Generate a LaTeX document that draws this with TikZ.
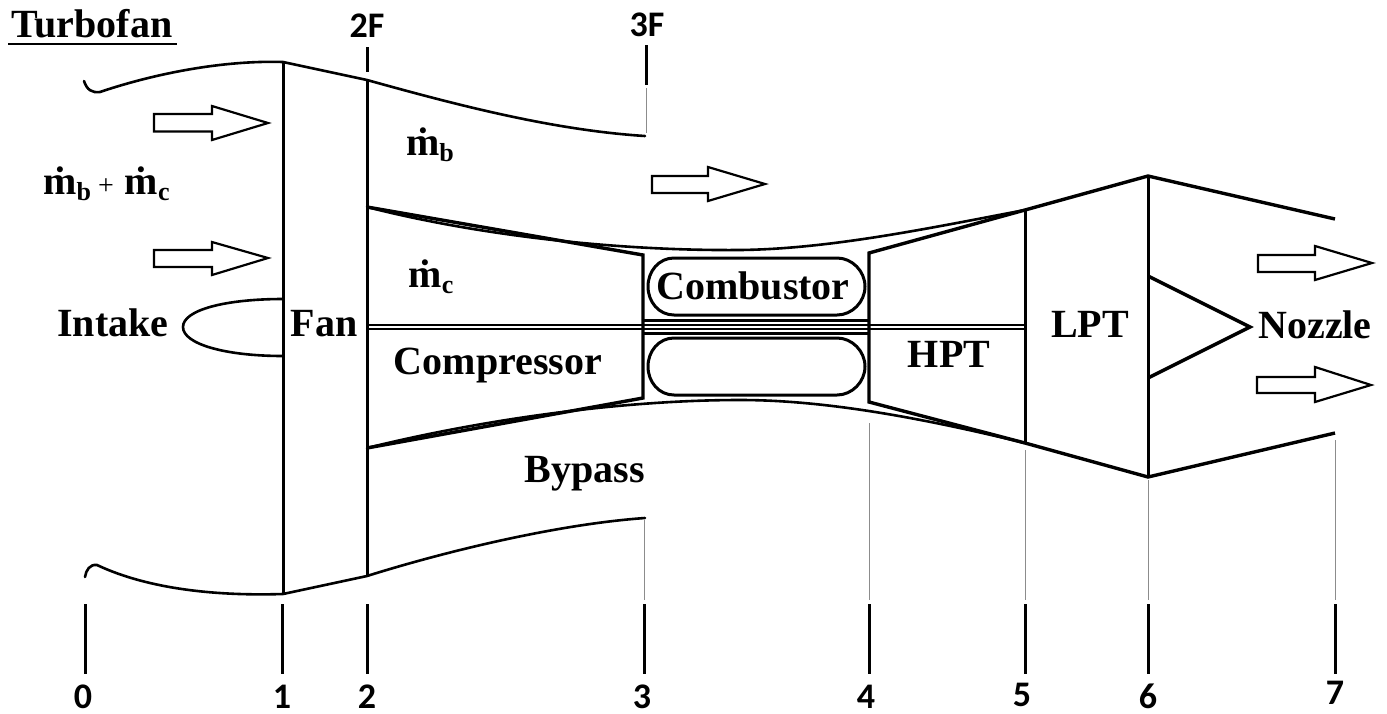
\documentclass[tikz,border=0pt]{standalone}
\usepackage{fontspec}
\setmainfont{Liberation Serif}
\newfontfamily\numfont{Carlito}
\newcommand{\mdotsub}[1]{ṁ\raisebox{-6pt}{\fontsize{26}{26}\selectfont #1}}
\tikzset{
  x=1pt,y=-1pt,
  body/.style={draw=black,line width=3pt,line join=miter},
  hull/.style={draw=black,line width=2.6pt,line cap=round},
  heavy/.style={draw=black,line width=3.4pt},
  flowarrow/.style={draw=black,fill=white,line width=2.2pt,line join=miter},
  guide/.style={draw=black!45,line width=1pt},
  tick/.style={draw=black,line width=3pt},
  lbl/.style={anchor=base,inner sep=0pt,font=\fontsize{40}{40}\selectfont\bfseries},
  mlbl/.style={anchor=base,inner sep=0pt,font=\fontsize{40}{40}\selectfont\bfseries},
  stn/.style={anchor=base,inner sep=0pt,font=\fontsize{36}{36}\selectfont\numfont\bfseries},
  burner/.style={draw=black,line width=3pt},
}
\begin{document}
\begin{tikzpicture}
\useasboundingbox (0,0) rectangle (1387,713);
\fill[white] (0,0) rectangle (1387,713);

% key points
\coordinate (fanT) at (283,62);   \coordinate (fanB) at (283,594);
\coordinate (twoT) at (367,80);   \coordinate (twoB) at (367,576);
\coordinate (coreT) at (367,207); \coordinate (coreB) at (367,448);
\coordinate (cmpT) at (643,255);  \coordinate (cmpB) at (643,398);
\coordinate (hptT) at (869,253);  \coordinate (hptB) at (869,402);
\coordinate (lptT) at (1025,210); \coordinate (lptB) at (1025,443);
\coordinate (sixT) at (1148,176); \coordinate (sixB) at (1148,477);
\coordinate (endT) at (1335,219); \coordinate (endB) at (1335,433);
\coordinate (bypT) at (645,136);  \coordinate (bypB) at (645,518);

% outer casing
\draw[hull] (84,81) .. controls (87,90) and (92,93) .. (100,92)
  .. controls (150,75) and (220,60) .. (fanT) -- (twoT)
  .. controls (450,103) and (550,130) .. (bypT);
\draw[hull] (85,577) .. controls (86,570) and (90,564) .. (97,565)
  .. controls (150,590) and (220,596) .. (fanB) -- (twoB)
  .. controls (450,550) and (560,524) .. (bypB);

% vertical planes
\draw[body] (fanT) -- (fanB);
\draw[body] (twoT) -- (twoB);

% spinner
\draw[hull] (283,299) .. controls (225,299) and (183,310) .. (183,327)
  .. controls (183,344) and (225,356) .. (283,356);

% core duct
\draw[hull] (coreT) .. controls (480,236) and (620,251) .. (740,250)
  .. controls (830,249) and (930,228) .. (lptT);
\draw[hull] (coreB) .. controls (480,420) and (620,400) .. (740,400)
  .. controls (830,400) and (930,420) .. (lptB);

% compressor and turbine
\draw[heavy,line join=miter] (coreT) -- (cmpT) -- (cmpB) -- (coreB);
\draw[heavy,line join=miter] (lptT) -- (hptT) -- (hptB) -- (lptB);
\draw[body] (lptT) -- (lptB);
\draw[heavy] (lptT) -- (sixT) -- (endT);
\draw[heavy] (lptB) -- (sixB) -- (endB);
\draw[body] (sixT) -- (sixB);

% nozzle cone
\draw[heavy,line join=miter] (1148,276) -- (1250,327) -- (1148,378);

% shaft
\draw[draw=black,line width=2pt] (367,325) -- (1025,325);
\draw[draw=black,line width=2pt] (367,329) -- (1025,329);
\draw[heavy] (643,320.5) -- (869,320.5);
\draw[heavy] (643,333.5) -- (869,333.5);

% combustors
\draw[burner] (674,258) -- (837,258) .. controls (852,258) and (865,271) .. (865,286.5)
  .. controls (865,302) and (852,315) .. (837,315) -- (674,315)
  .. controls (659,315) and (648,302) .. (648,286.5)
  .. controls (648,271) and (659,258) .. (674,258) -- cycle;
\draw[burner] (674,338) -- (837,338) .. controls (852,338) and (865,351) .. (865,366.5)
  .. controls (865,382) and (852,395) .. (837,395) -- (674,395)
  .. controls (659,395) and (648,382) .. (648,366.5)
  .. controls (648,351) and (659,338) .. (674,338) -- cycle;

% flow arrows
\draw[flowarrow] (154,114) -- (212,114) -- (212,106) -- (268,123) -- (212,140) -- (212,131.5) -- (154,131.5) -- cycle;
\draw[flowarrow] (154,250) -- (212,250) -- (212,242) -- (268,258) -- (212,275) -- (212,267) -- (154,267) -- cycle;
\draw[flowarrow] (652,176) -- (708,176) -- (708,167) -- (765,184) -- (708,201) -- (708,193) -- (652,193) -- cycle;
\draw[flowarrow] (1258,255) -- (1315,255) -- (1315,246) -- (1372,263) -- (1315,280) -- (1315,272) -- (1258,272) -- cycle;
\draw[flowarrow] (1257,377) -- (1315,377) -- (1315,367) -- (1371,385) -- (1315,402) -- (1315,393) -- (1257,393) -- cycle;

% station guides
\draw[guide] (646,88) -- (646,133);
\draw[guide] (644,520) -- (644,600);
\draw[guide] (869,423) -- (869,600);
\draw[guide] (1025,450) -- (1025,600);
\draw[guide] (1148,480) -- (1148,600);
\draw[guide] (1335,440) -- (1335,600);

% station ticks
\foreach \xx in {85,282,367,644,869,1025,1148,1335}
  \draw[tick] (\xx,604) -- (\xx,674);
\draw[tick] (367,47) -- (367,72);
\draw[tick] (646,45) -- (646,85);

% station labels
\node[stn] (s0) at (83,708) {0};
\node[stn] (s1) at (282,708) {1};
\node[stn] (s2) at (367,708) {2};
\node[stn] (s3) at (642,708) {3};
\node[stn] (s4) at (866,708) {4};
\node[stn] (s5) at (1022,706) {5};
\node[stn] (s6) at (1148,708) {6};
\node[stn] (s7) at (1335,704) {7};
\node[stn] (s2F) at (367,37) {2F};
\node[stn] (s3F) at (647,36) {3F};

% names
\node[lbl] (title) at (92,37) {Turbofan};
\draw[draw=black,line width=2.8pt] (8,44) -- (177,44);
\node[lbl] (intake) at (113,336) {Intake};
\node[lbl] (fan) at (324,336) {Fan};
\node[lbl] (compressor) at (498,374) {Compressor};
\node[lbl] (bypass) at (585,482) {Bypass};
\node[lbl] (combustor) at (753,299) {Combustor};
\node[lbl] (hpt) at (949,367) {HPT};
\node[lbl] (lpt) at (1090,337) {LPT};
\node[lbl] (nozzle) at (1315,338) {Nozzle};
\node[mlbl] (mb) at (430,155) {\mdotsub{b}};
\node[mlbl] (mc) at (431,287) {\mdotsub{c}};
\node[mlbl] (mbc) at (106.5,194) {\mdotsub{b}\hspace{7pt}{\fontsize{28}{28}\selectfont\mdseries +}\hspace{11pt}\mdotsub{c}};
\end{tikzpicture}
\end{document}
